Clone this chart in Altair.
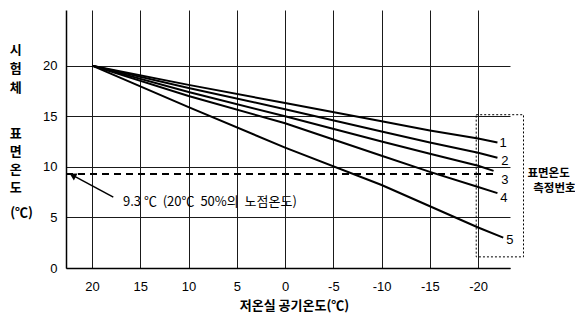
import altair as alt
import pandas as pd

# ---- data ----
x_ticks = [20, 15, 10, 5, 0, -5, -10, -15, -20]
y_ticks = [0, 5, 10, 15, 20]

series_names = ["1", "2", "3", "4", "5"]
air_temp = [20, 10, 0, -10, -15, -20]
line1 = [20, 18.1, 16.3, 14.5, 13.6, 12.8]
line2 = [20, 17.8, 15.7, 13.5, 12.4, 11.4]
line3 = [20, 17.4, 15.0, 12.5, 11.3, 10.1]
line4 = [20, 17.0, 14.3, 11.1, 9.5, 8.0]
line5 = [20, 15.9, 11.9, 8.2, 6.1, 4.0]
end_x = [-22.0, -22.0, -21.6, -22.0, -22.6]
end_y = [12.4, 10.9, 9.6, 7.4, 3.0]

dew_point = 9.3
dew_label = "9.3 ℃\u00a0\u00a0(20℃\u00a0\u00a050%의\u00a0\u00a0노점온도)"
x_title = "저온실 공기온도(℃)"
y_title_top = "시\n험\n체"
y_title_mid = "표\n면\n온\n도"
y_title_unit = "(℃)"
legend_title = ["표면온도", "측정번호"]

# ---- build tables ----
rows = []
for name, vals, ex, ey in zip(series_names, [line1, line2, line3, line4, line5], end_x, end_y):
    for t, v in zip(air_temp, vals):
        rows.append({"series": name, "x": t, "y": v})
    rows.append({"series": name, "x": ex, "y": ey})
lines_df = pd.DataFrame(rows)

label_df = pd.DataFrame({
    "series": series_names,
    "x": [-22.2, -22.4, -22.4, -22.3, -22.9],
    "y": [12.4, 10.6, 8.7, 6.9, 2.8],
})

num_font = "Liberation Sans, Arial, sans-serif"
kr_font = "Noto Sans CJK KR, sans-serif"

xs = alt.Scale(domain=[-23.3, 22.7], reverse=True, nice=False, zero=False)
ys = alt.Scale(domain=[0, 25.5], nice=False, zero=False)

x_axis = alt.Axis(
    values=x_ticks, grid=True, gridColor="#1a1a1a", gridWidth=1,
    domainColor="#000", domainWidth=1.5, tickSize=0, labelPadding=12,
    labelFont=num_font, labelFontSize=13, labelColor="#000",
    labelExpr="datum.value + ''",
    title=x_title, titleFont=kr_font, titleFontSize=13, titleFontWeight="bold",
    titleColor="#000", titleX=228, titleY=37, titleBaseline="middle", titleAlign="center",
)
y_axis = alt.Axis(
    values=y_ticks, grid=True, gridColor="#1a1a1a", gridWidth=1,
    domainColor="#000", domainWidth=1.5, tickSize=0, labelPadding=9,
    labelFont=num_font, labelFontSize=13, labelColor="#000", title="",
)

X = lambda f="x": alt.X(f"{f}:Q", scale=xs, axis=x_axis)
Y = lambda f="y": alt.Y(f"{f}:Q", scale=ys, axis=y_axis)

lines = alt.Chart(lines_df).mark_line(color="#000", strokeWidth=2).encode(
    x=X(), y=Y(), detail="series:N"
)

dew_df = pd.DataFrame({"x": [22.7], "x2": [-21.6], "y": [dew_point]})
dew = alt.Chart(dew_df).mark_rule(color="#000", strokeWidth=2, strokeDash=[7, 5]).encode(
    x=X(), x2="x2:Q", y=Y()
)

labels = alt.Chart(label_df).mark_text(
    align="left", baseline="middle", font=num_font, fontSize=13, color="#000"
).encode(x=X(), y=Y(), text="series:N")

box_df = pd.DataFrame({"x": [-19.8], "x2": [-24.7], "y": [15.15], "y2": [1.1]})
box = alt.Chart(box_df).mark_rect(
    filled=False, stroke="#000", strokeWidth=1, strokeDash=[2, 2]
).encode(x=X(), x2="x2:Q", y=Y(), y2="y2:Q")

legend_df = pd.DataFrame({"x": [-27.3, -27.9], "y": [9.3, 7.8], "t": legend_title})
legend_txt = alt.Chart(legend_df).mark_text(
    align="center", baseline="middle", font=kr_font, fontSize=11.5, fontWeight="bold", color="#000"
).encode(x=X(), y=Y(), text="t:N")

ann_df = pd.DataFrame({"x": [16.8], "y": [6.5], "t": [dew_label]})
ann = alt.Chart(ann_df).mark_text(
    align="left", baseline="middle", font=kr_font, fontSize=13, color="#000"
).encode(x=X(), y=Y(), text="t:N")

arrow_df = pd.DataFrame({"x": [17.8], "y": [7.0], "x2": [21.8], "y2": [9.05]})
arrow = alt.Chart(arrow_df).mark_rule(color="#000", strokeWidth=1.5).encode(
    x=X(), y=Y(), x2="x2:Q", y2="y2:Q"
)
head_df = pd.DataFrame({"x": [21.9], "y": [9.1]})
head = alt.Chart(head_df).mark_point(
    shape="triangle", filled=True, color="#000", size=60, angle=298, opacity=1
).encode(x=X(), y=Y())

ytitle_df = pd.DataFrame({
    "x": [27.9, 27.9], "y": [21.5, 13.2], "t": [y_title_top, y_title_mid],
})
ytitle_a = alt.Chart(ytitle_df.iloc[[0]]).mark_text(
    align="center", baseline="middle", lineBreak="\n", lineHeight=19,
    font=kr_font, fontSize=13, fontWeight="bold", color="#000"
).encode(x=X(), y=Y(), text="t:N")
ytitle_b = alt.Chart(ytitle_df.iloc[[1]]).mark_text(
    align="center", baseline="middle", lineBreak="\n", lineHeight=18,
    font=kr_font, fontSize=13, fontWeight="bold", color="#000"
).encode(x=X(), y=Y(), text="t:N")
unit_df = pd.DataFrame({"x": [27.3], "y": [5.45], "t": [y_title_unit]})
ytitle_c = alt.Chart(unit_df).mark_text(
    align="center", baseline="middle",
    font=kr_font, fontSize=13, fontWeight="bold", color="#000"
).encode(x=X(), y=Y(), text="t:N")

chart = alt.layer(lines, dew, labels, box, legend_txt, ann, arrow, head,
                  ytitle_a, ytitle_b, ytitle_c).properties(
    width=444, height=258,
    autosize=alt.AutoSizeParams(type="none"),
    padding={"left": 58, "top": 2, "right": 65, "bottom": 46},
    background="white",
).configure_view(strokeWidth=0)

chart.save("out.html", embed_options={"renderer": "svg", "actions": False})
